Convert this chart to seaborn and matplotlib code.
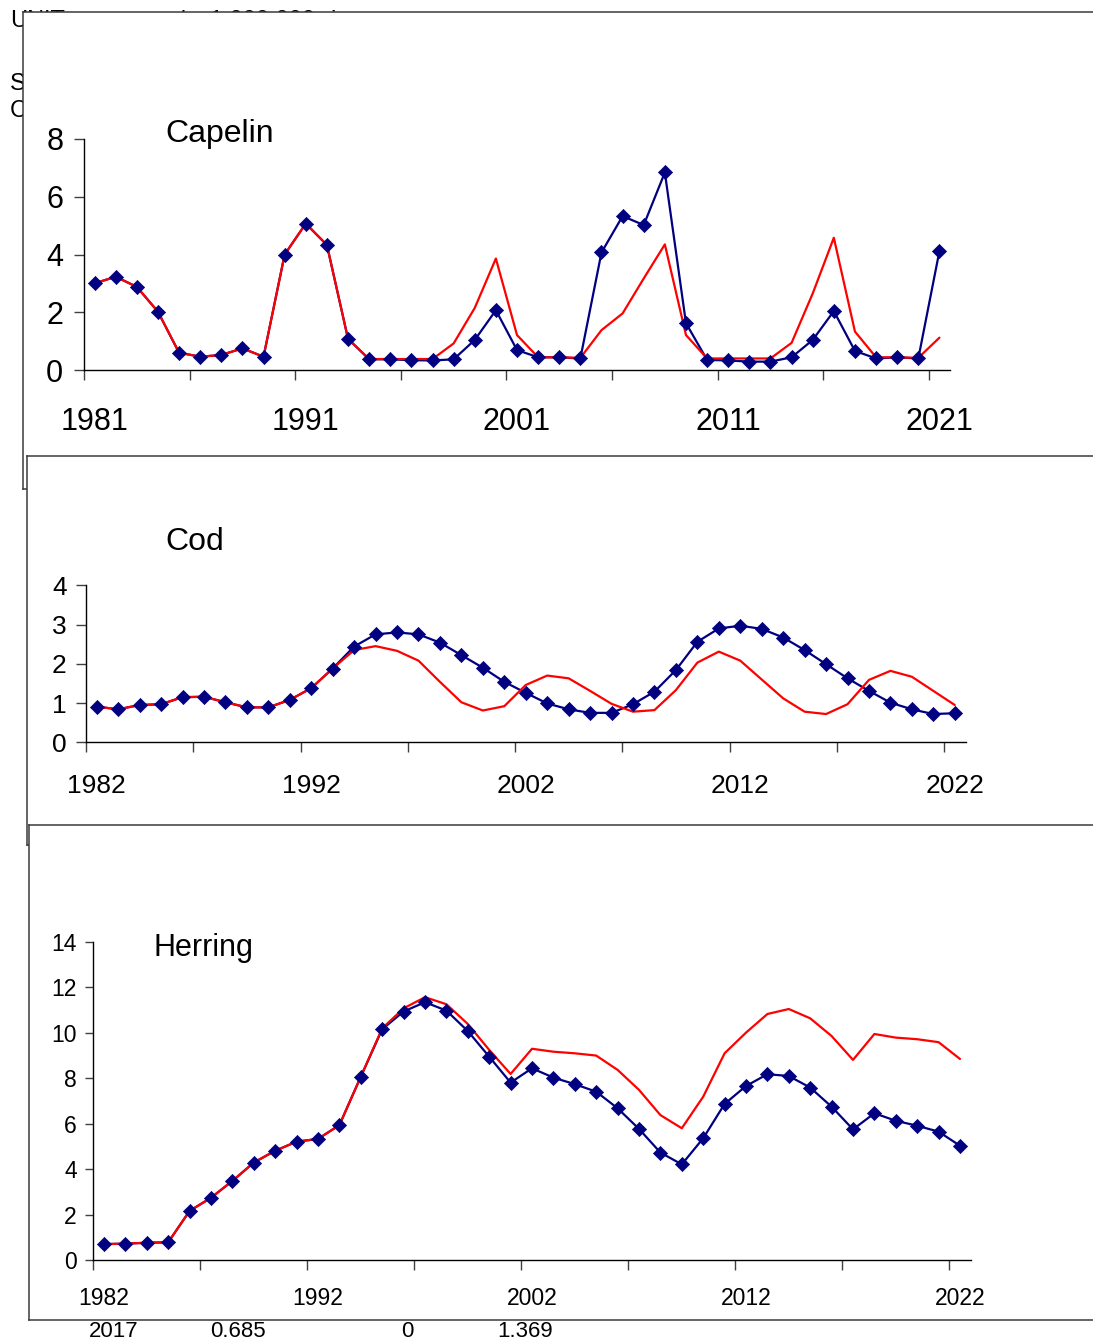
import numpy as np
import pandas as pd
import matplotlib
matplotlib.use("Agg")
import matplotlib.pyplot as plt
import seaborn as sns
from matplotlib.ticker import FixedLocator, NullFormatter

# ---------------- data ----------------
capelin_years = list(range(1981, 2022))
capelin_blue = [3.00, 3.23, 2.88, 2.02, 0.60, 0.46, 0.52, 0.75, 0.46, 4.00,
                5.07, 4.33, 1.08, 0.37, 0.37, 0.34, 0.33, 0.37, 1.04, 2.07,
                0.69, 0.44, 0.44, 0.40, 4.07, 5.33, 5.02, 6.84, 1.62, 0.35,
                0.33, 0.29, 0.29, 0.44, 1.04, 2.04, 0.66, 0.40, 0.44, 0.40,
                4.12]
capelin_red = [3.00, 3.23, 2.88, 2.02, 0.60, 0.46, 0.52, 0.75, 0.46, 4.00,
               5.07, 4.33, 1.08, 0.38, 0.38, 0.38, 0.38, 0.92, 2.15, 3.86,
               1.21, 0.44, 0.44, 0.42, 1.38, 1.96, 3.17, 4.35, 1.21, 0.40,
               0.40, 0.40, 0.40, 0.94, 2.65, 4.58, 1.33, 0.44, 0.44, 0.42,
               1.12]
capelin_labels = ["1981", "1991", "2001", "2011", "2021"]

cod_years = list(range(1982, 2023))
cod_blue = [0.91, 0.84, 0.95, 0.97, 1.15, 1.16, 1.02, 0.89, 0.89, 1.08,
            1.38, 1.88, 2.44, 2.75, 2.80, 2.75, 2.54, 2.22, 1.90, 1.54,
            1.26, 0.99, 0.84, 0.75, 0.75, 0.97, 1.29, 1.84, 2.56, 2.90,
            2.97, 2.89, 2.67, 2.35, 1.99, 1.63, 1.31, 1.01, 0.84, 0.72,
            0.74]
cod_red = [0.91, 0.84, 0.95, 0.97, 1.15, 1.16, 1.02, 0.89, 0.89, 1.08,
           1.38, 1.88, 2.35, 2.45, 2.33, 2.08, 1.54, 1.02, 0.81, 0.92,
           1.46, 1.70, 1.63, 1.31, 0.98, 0.78, 0.82, 1.33, 2.03, 2.31,
           2.08, 1.60, 1.12, 0.78, 0.72, 0.97, 1.59, 1.82, 1.67, 1.31,
           0.95]
cod_labels = ["1982", "1992", "2002", "2012", "2022"]

herring_years = list(range(1982, 2023))
herring_blue = [0.70, 0.72, 0.76, 0.78, 2.16, 2.74, 3.48, 4.29, 4.81, 5.21,
                5.33, 5.94, 8.07, 10.16, 10.94, 11.35, 10.98, 10.08, 8.95, 7.81,
                8.44, 8.03, 7.74, 7.41, 6.68, 5.77, 4.73, 4.21, 5.36, 6.87,
                7.66, 8.18, 8.10, 7.59, 6.75, 5.75, 6.46, 6.13, 5.91, 5.65,
                5.03]
herring_red = [0.70, 0.72, 0.76, 0.78, 2.16, 2.74, 3.48, 4.29, 4.81, 5.21,
               5.33, 5.94, 8.07, 10.20, 11.08, 11.57, 11.26, 10.39, 9.25, 8.19,
               9.30, 9.17, 9.10, 9.00, 8.37, 7.49, 6.38, 5.80, 7.19, 9.10,
               10.01, 10.83, 11.05, 10.64, 9.86, 8.81, 9.95, 9.79, 9.72, 9.59,
               8.85]
herring_labels = ["1982", "1992", "2002", "2012", "2022"]

sheet_bottom_cells = ["2017", "0.685", "0", "1.369"]

# ---------------- style ----------------
sns.set_style("white")
plt.rcParams['font.family'] = ['Liberation Sans', 'DejaVu Sans']
plt.rcParams['text.color'] = 'black'
plt.rcParams['axes.labelcolor'] = 'black'
plt.rcParams['xtick.color'] = 'black'
plt.rcParams['ytick.color'] = 'black'

NAVY = "#000080"
RED = "#FF0000"
W, H = 1093, 1344
fig = plt.figure(figsize=(W / 100, H / 100), dpi=100)
fig.patch.set_facecolor("white")


def px_axes(x0, y0, x1, y1):
    return fig.add_axes([x0 / W, 1 - y1 / H, (x1 - x0) / W, (y1 - y0) / H])


def ptext(x, y, s, **kw):
    return fig.text(x / W, 1 - y / H, s, color="black", **kw)


# spreadsheet cells behind the charts
ptext(10, 27, "UNIT", fontsize=17, va='baseline', zorder=-1)
ptext(135, 27, "number", fontsize=17, va='baseline', zorder=-1)
ptext(210, 27, "1,000 000", fontsize=17, va='baseline', zorder=-1)
ptext(330, 27, "in", fontsize=17, va='baseline', zorder=-1)
ptext(10, 90, "SSB", fontsize=17, va='baseline', zorder=-1)
ptext(10, 117, "Capelin", fontsize=17, va='baseline', zorder=-1)
for cx, s in zip([114, 238, 407, 525], sheet_bottom_cells):
    ptext(cx, 1337, s, fontsize=16, va='baseline', ha='center', zorder=-1)


def frame(x0, y0, x1, y1):
    a = px_axes(x0, y0, x1, y1)
    a.set_xticks([])
    a.set_yticks([])
    a.set_facecolor("white")
    for s in a.spines.values():
        s.set_color("#3a3a3a")
        s.set_linewidth(1.1)
    return a


def panel(box, years, blue, red, ymax, ystep, labels, fs, xpad, ypad, ytl):
    ax = px_axes(*box)
    ax.patch.set_alpha(0)
    idx = np.arange(len(years))
    df = pd.DataFrame({"idx": idx, "blue": blue, "red": red})
    sns.lineplot(data=df, x="idx", y="blue", color=NAVY, lw=1.6, ax=ax, zorder=2)
    sns.lineplot(data=df, x="idx", y="red", color=RED, lw=1.6, ax=ax, zorder=3)
    sns.scatterplot(data=df, x="idx", y="blue", marker="D", s=52, color=NAVY,
                    edgecolor=NAVY, linewidth=0.5, ax=ax, zorder=4, clip_on=False)
    n = len(years)
    ax.set_xlim(-0.5, n - 0.5)
    ax.set_ylim(0, ymax)
    ax.set_xlabel("")
    ax.set_ylabel("")
    # major ticks at category boundaries every 5 categories
    ax.xaxis.set_major_locator(FixedLocator([-0.5 + 5 * k for k in range(9)]))
    ax.xaxis.set_major_formatter(NullFormatter())
    label_pos = [years.index(int(l)) for l in labels]
    ax.set_xticks(label_pos, labels, minor=True)
    ax.set_yticks(np.arange(0, ymax + 0.001, ystep))
    ax.set_yticklabels([str(int(v)) for v in np.arange(0, ymax + 0.001, ystep)])
    ax.tick_params(axis="x", which="major", bottom=True, direction="out",
                   length=7, width=1, color="#404040")
    ax.tick_params(axis="x", which="minor", bottom=True, length=0,
                   pad=xpad, labelsize=fs, labelcolor="black")
    ax.tick_params(axis="y", which="major", left=True, direction="out",
                   length=ytl, width=1, color="#404040", pad=ypad,
                   labelsize=fs, labelcolor="black")
    for s in ["top", "right"]:
        ax.spines[s].set_visible(False)
    for s in ["left", "bottom"]:
        ax.spines[s].set_color("black")
        ax.spines[s].set_linewidth(1.0)
    ax.grid(False)
    return ax


# chart 1: Capelin
frame(23, 12, 1110, 489)
panel((84, 139, 950, 370), capelin_years, capelin_blue, capelin_red,
      8, 2, capelin_labels, 22, 27, 8, 7)
ptext(165, 142, "Capelin", fontsize=23, va="baseline", zorder=5)

# chart 2: Cod
frame(27, 456, 1110, 845)
panel((86, 585.3, 965.5, 742.3), cod_years, cod_blue, cod_red,
      4, 1, cod_labels, 19, 23, 7, 7)
ptext(165, 550, "Cod", fontsize=23, va="baseline", zorder=5)

# chart 3: Herring
frame(29, 825, 1110, 1320)
panel((93.3, 942, 970.7, 1260), herring_years, herring_blue, herring_red,
      14, 2, herring_labels, 16.5, 19.5, 6, 6)
ptext(154, 956, "Herring", fontsize=22, va="baseline", zorder=5)

fig.savefig("out.png", dpi=100)
